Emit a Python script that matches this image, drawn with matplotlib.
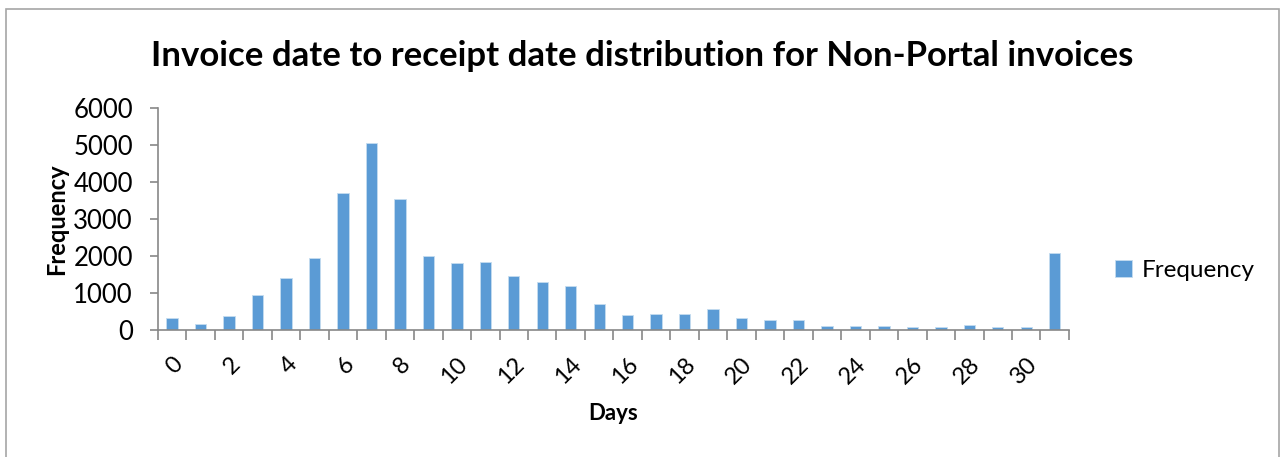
import numpy as np
import matplotlib.pyplot as plt
from matplotlib.patches import Rectangle

# Days between invoice date and receipt date (last bin = over 30 days)
days = list(range(32))
tick_labels = [str(d) if d % 2 == 0 and d <= 30 else '' for d in days]
frequency = [330, 160, 370, 940, 1400, 1940, 3690, 5050, 3530, 1990,
             1800, 1850, 1450, 1310, 1200, 690, 400, 440, 440, 560,
             320, 260, 270, 100, 110, 100, 75, 90, 130, 70,
             80, 2080]

plt.rcParams['font.family'] = ['Lato', 'DejaVu Sans']

fig = plt.figure(figsize=(12.84, 4.57), dpi=100)
ax = fig.add_axes([0.123, 0.2779, 0.7095, 0.4858])

# chart area border
fig.patches.append(Rectangle((6 / 1284, -0.1), 1273 / 1284, 1 - 9 / 457 + 0.1,
                             transform=fig.transFigure, fill=False,
                             edgecolor='#a6a6a6', linewidth=1.2))

bars = ax.bar(days, frequency, width=0.4, color='#5b9bd5',
              edgecolor='#c5dcf0', linewidth=0.6, label='Frequency')

ax.set_xlim(-0.5, 31.5)
ax.set_ylim(0, 6000)
ax.set_yticks(np.arange(0, 6001, 1000))
ax.tick_params(axis='y', labelsize=18.5, length=6, color='#888888', width=1.2, pad=12)

ax.set_xticks(days)
ax.set_xticklabels(tick_labels, rotation=45, ha='right', rotation_mode='anchor',
                   fontsize=17)
ax.tick_params(axis='x', which='major', length=0, pad=17)
ax.set_xticks(np.arange(-0.5, 32, 1), minor=True)
ax.tick_params(axis='x', which='minor', length=7, color='#888888', width=1.2)

for s in ['top', 'right']:
    ax.spines[s].set_visible(False)
for s in ['left', 'bottom']:
    ax.spines[s].set_color('#888888')
    ax.spines[s].set_linewidth(1.2)

# title is centred on the whole chart area, not the plot area
ax.set_title('Invoice date to receipt date distribution for Non-Portal invoices',
             fontsize=25, fontweight='bold', pad=30, x=0.532)
ax.set_xlabel('Days', fontsize=16, fontweight='bold', labelpad=11)
ax.set_ylabel('Frequency', fontsize=17, fontweight='bold', labelpad=4)

ax.legend(loc='center left', bbox_to_anchor=(1.027, 0.27), frameon=False,
          fontsize=17.5, handlelength=0.7, handleheight=0.7, handletextpad=0.4)

fig.savefig('out.png', dpi=100)
